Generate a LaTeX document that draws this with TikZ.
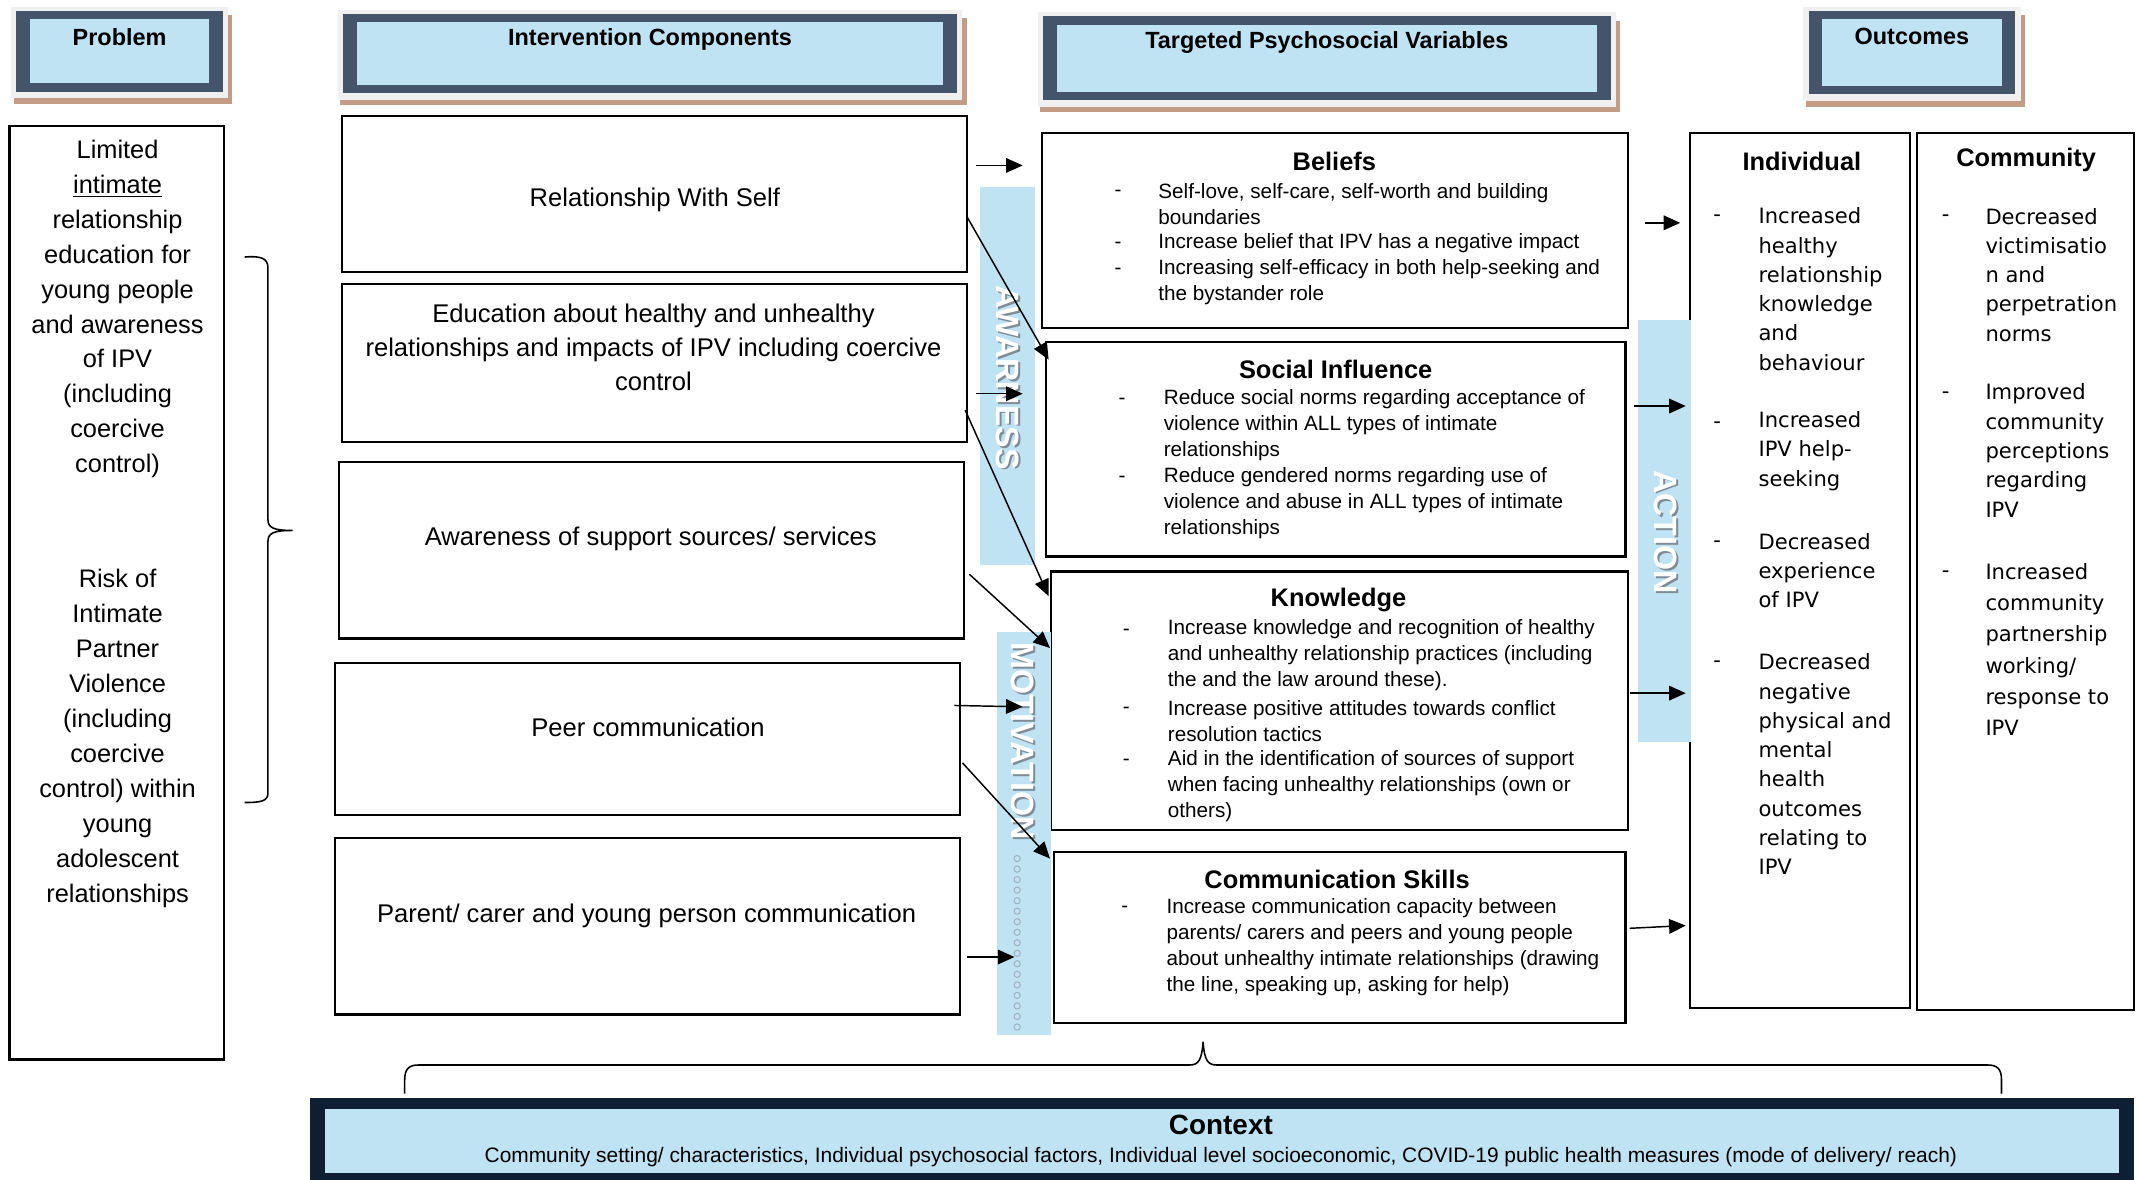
\documentclass[tikz,border=0pt]{standalone}
\usepackage{fontspec}
\usepackage{graphicx}
\setmainfont{Liberation Sans}
\newfontfamily\dejavu{DejaVu Sans}
\usetikzlibrary{arrows.meta,calc}
\definecolor{slate}{HTML}{44546A}
\definecolor{lblue}{HTML}{C0E3F4}
\definecolor{tanc}{HTML}{C39C85}
\definecolor{sgray}{HTML}{F0F0F0}
\definecolor{navy}{HTML}{0E1E33}
\definecolor{shadowc}{HTML}{7F8C96}
\definecolor{circc}{HTML}{9DB0BE}
\newdimen\U \U=0.7pt
\newcommand\mkbox[6]{%
  \node[#6, minimum width={(#4-#2)*\U}, minimum height={(#5-#3)*\U}] (#1) at ({(#2+#4)/2},{(#3+#5)/2}) {};}
\newcommand\mkhdr[6]{%
  \fill[tanc] ({#2-2},{#3+3}) rectangle ({#4+7},{#5+9});
  \fill[sgray] ({#2-4},{#3-3}) rectangle ({#4+4},{#5+5});
  \mkbox{#1}{#2}{#3}{#4}{#5}{fill=slate,inner sep=0pt,outer sep=0pt}
  \fill[lblue] ({#2+10},{#3+6}) rectangle ({#4-10},{#5-6});
  \node[hdr] (#1t) at ({(#2+#4)/2},{#3+19}) {#6};}
\newcommand\bartext[4]{%
  \node[bartxt, text=shadowc] (#1s) at ({#2+1.4},{#3+1.4}) {#4};
  \node[bartxt, text=white] (#1) at (#2,#3) {#4};}
\begin{document}
\begin{tikzpicture}[x=0.7pt,y=-0.7pt,
  box/.style={draw, line width=1.1pt, inner sep=0pt, outer sep=0pt},
  bar/.style={fill=lblue, draw=none, inner sep=0pt, outer sep=0pt},
  hdr/.style={font=\bfseries\fontsize{12}{14}\selectfont, inner sep=0pt},
  ttl/.style={font=\bfseries\fontsize{13}{15}\selectfont, inner sep=0pt},
  ptext/.style={font=\fontsize{13}{17.9}\selectfont, align=center, inner sep=0pt},
  itext/.style={font=\fontsize{13.1}{17.5}\selectfont, align=center, inner sep=0pt},
  btxt/.style={font=\fontsize{10.6}{13.3}\selectfont, align=left, anchor=west, inner sep=0pt},
  otxt/.style={font=\dejavu\fontsize{10.8}{15}\selectfont, align=left, anchor=west, inner sep=0pt},
  bartxt/.style={rotate=-90, font=\bfseries\fontsize{16.5}{17}\selectfont, inner sep=0pt},
  arr/.style={-{Triangle[length=8.5pt,width=7.5pt]}, line width=0.75pt},
  brace/.style={line width=0.8pt},
  circ/.style={draw=circc, line width=0.5pt}]
\useasboundingbox (0,0) rectangle (1567.5,863);

% headers
\mkhdr{hprob}{12}{8}{163}{67}{Problem}
\mkhdr{hint}{251}{10}{700}{68}{Intervention Components}
\mkhdr{htar}{763}{12}{1178}{73}{Targeted Psychosocial Variables}
\mkhdr{hout}{1323}{8}{1474}{69}{Outcomes}

% boxes
\mkbox{prob}{7}{92}{164}{775}{box}
\mkbox{rws}{250}{85}{707}{199}{box}
\mkbox{edu}{250}{208}{707}{323}{box}
\mkbox{aware}{248}{338}{705}{467}{box}
\mkbox{peer}{245}{485}{702}{596}{box}
\mkbox{parent}{245}{613}{702}{742}{box}
\mkbox{bel}{762}{97}{1191}{240}{box}
\mkbox{soc}{765}{250}{1189}{407}{box}
\mkbox{know}{769}{418}{1191}{607}{box}
\mkbox{comm}{771}{623}{1189}{748}{box}
\mkbox{indiv}{1236}{97}{1397}{737}{box}
\mkbox{commu}{1402}{97}{1561}{739}{box}

% context
\mkbox{ctx}{227}{803}{1561}{863}{fill=navy,inner sep=0pt,outer sep=0pt}
\fill[lblue] (238,811) rectangle (1550,858);
\node[font=\bfseries\fontsize{14.3}{16}\selectfont, inner sep=0pt] (ctxt) at (893,823) {Context};
\node[inner sep=0pt] (ctxs) at (893,846) {\resizebox{1077\U}{!}{\fontsize{10}{12}\selectfont Community setting/ characteristics, Individual psychosocial factors, Individual level socioeconomic, COVID-19 public health measures (mode of delivery/ reach)}};

% bars
\mkbox{awbar}{717}{137}{757}{413}{bar}
\mkbox{motbar}{729}{462}{769}{757}{bar}
\mkbox{actbar}{1198}{234}{1237}{543}{bar}
\bartext{awlab}{737}{276}{AWARNESS}
\bartext{motlab}{748}{542}{MOTIVATION}
\bartext{actlab}{1218}{389}{ACTION}
\foreach \k in {0,...,16} \draw[circ] (744,{628+7.7*\k}) circle[radius=1.6pt];

% problem text
\node[ptext] (probt1) at (86,226) {Limited\\\underline{intimate}\\relationship\\education for\\young people\\and awareness\\of IPV\\(including\\coercive\\control)};
\node[ptext] (probt2) at (86,540) {Risk of\\Intimate\\Partner\\Violence\\(including\\coercive\\control) within\\young\\adolescent\\relationships};

% intervention text
\node[itext] (rwst) at (479,146) {Relationship With Self};
\node[itext] (edut) at (478,254) {Education about healthy and unhealthy\\relationships and impacts of IPV including coercive\\control};
\node[itext] (awaret) at (476,394) {Awareness of support sources/ services};
\node[itext] (peert) at (474,532) {Peer communication};
\node[itext] (parentt) at (473,670) {Parent/ carer and young person communication};

% beliefs
\node[ttl] (belt) at (976,118) {Beliefs};
\node[btxt] (beld1) at (815,140) {\strut-};
\node[btxt] (belb1) at (847,149) {Self-love, self-care, self-worth and building\\boundaries};
\node[btxt] (beld2) at (815,178) {\strut-};
\node[btxt] (belb2) at (847,178) {Increase belief that IPV has a negative impact};
\node[btxt] (beld3) at (815,197) {\strut-};
\node[btxt] (belb3) at (847,206.5) {Increasing self-efficacy in both help-seeking and\\the bystander role};

% social influence
\node[ttl] (soct) at (977,270) {Social Influence};
\node[btxt] (socd1) at (818,292) {\strut-};
\node[btxt] (socb1) at (851,311) {Reduce social norms regarding acceptance of\\violence within ALL types of intimate\\relationships};
\node[btxt] (socd2) at (818,349) {\strut-};
\node[btxt] (socb2) at (851,368) {Reduce gendered norms regarding use of\\violence and abuse in ALL types of intimate\\relationships};

% knowledge
\node[ttl] (knowt) at (979,439) {Knowledge};
\node[btxt] (knowd1) at (821,461) {\strut-};
\node[btxt] (knowb1) at (854,479.5) {Increase knowledge and recognition of healthy\\and unhealthy relationship practices (including\\the and the law around these).};
\node[btxt] (knowd2) at (821,518) {\strut-};
\node[btxt] (knowb2) at (854,527.5) {Increase positive attitudes towards conflict\\resolution tactics};
\node[btxt] (knowd3) at (821,556) {\strut-};
\node[btxt] (knowb3) at (854,575) {Aid in the identification of sources of support\\when facing unhealthy relationships (own or\\others)};

% communication skills
\node[ttl] (commt) at (978,643) {Communication Skills};
\node[btxt] (commd1) at (820,664) {\strut-};
\node[btxt] (commb1) at (853,692.5) {Increase communication capacity between\\parents/ carers and peers and young people\\about unhealthy intimate relationships (drawing\\the line, speaking up, asking for help)};

% individual
\node[ttl] (indivt) at (1318,118) {Individual};
\node[otxt] (indd1) at (1253,158) {\strut-};
\node[otxt] (indb1) at (1286,211.5) {Increased\\healthy\\relationship\\knowledge\\and\\behaviour};
\node[otxt] (indd2) at (1253,309) {\strut-};
\node[otxt] (indb2) at (1286,330) {Increased\\IPV help-\\seeking};
\node[otxt] (indd3) at (1253,396) {\strut-};
\node[otxt] (indb3) at (1286,417.5) {Decreased\\experience\\of IPV};
\node[otxt] (indd4) at (1253,484) {\strut-};
\node[otxt] (indb4) at (1286,559) {Decreased\\negative\\physical and\\mental\\health\\outcomes\\relating to\\IPV};

% community
\node[ttl] (commut) at (1482,117) {Community};
\node[otxt] (comd1) at (1420,158) {\strut-};
\node[otxt] (comb1) at (1452,201) {Decreased\\victimisatio\\n and\\perpetration\\norms};
\node[otxt] (comd2) at (1420,287) {\strut-};
\node[otxt] (comb2) at (1452,329.5) {Improved\\community\\perceptions\\regarding\\IPV};
\node[otxt] (comd3) at (1420,418) {\strut-};
\node[otxt, font=\dejavu\fontsize{10.8}{16}\selectfont] (comb3) at (1452,475) {Increased\\community\\partnership\\working/\\response to\\IPV};

% arrows: interventions -> variables
\draw[arr] ($(rws.north east)+(7,36)$) -- ($(bel.north west)+(-14,24)$);
\draw[arr] ($(rws.north east)+(0,73)$) -- ($(soc.north west)+(2,13)$);
\draw[arr] ($(edu.north east)+(7,80)$) -- ($(soc.north west)+(-17,38)$);
\draw[arr] ($(edu.north east)+(-1,92)$) -- ($(know.north west)+(-2,18)$);
\draw[arr] ($(aware.north east)+(4,82)$) -- ($(know.north west)+(-1,56)$);
\draw[arr] ($(peer.north east)+(-4,31)$) -- ($(know.north west)+(-21,99)$);
\draw[arr] ($(peer.north east)+(2,73)$) -- ($(comm.north west)+(-3,5)$);
\draw[arr] ($(parent.north east)+(5,87)$) -- ($(comm.north west)+(-29,77)$);
% arrows: variables -> outcomes
\draw[arr] ($(bel.north east)+(12,66)$) -- ($(indiv.north west)+(-7,66)$);
\draw[arr] ($(soc.north east)+(6,47)$) -- ($(indiv.north west)+(-3,200)$);
\draw[arr] ($(know.north east)+(1,89)$) -- ($(indiv.north west)+(-3,410)$);
\draw[arr] ($(comm.north east)+(3,56)$) -- ($(indiv.north west)+(-3,580)$);

% braces
\draw[brace] (179,188) .. controls (191,187) and (196,189) .. (196,196) -- (196,380) .. controls (196,386) and (200,388) .. (214,388) .. controls (200,388) and (196,390) .. (196,396) -- (196,580) .. controls (196,586) and (191,587) .. (179,587);
\draw[brace] (296,800) -- (296,790) .. controls (296,782) and (299,779) .. (306,779) -- (870,779) .. controls (877,779) and (879,775) .. (880,762) .. controls (881,775) and (883,779) .. (890,779) -- (1454,779) .. controls (1461,779) and (1464,782) .. (1464,790) -- (1464,800);
\end{tikzpicture}
\end{document}
